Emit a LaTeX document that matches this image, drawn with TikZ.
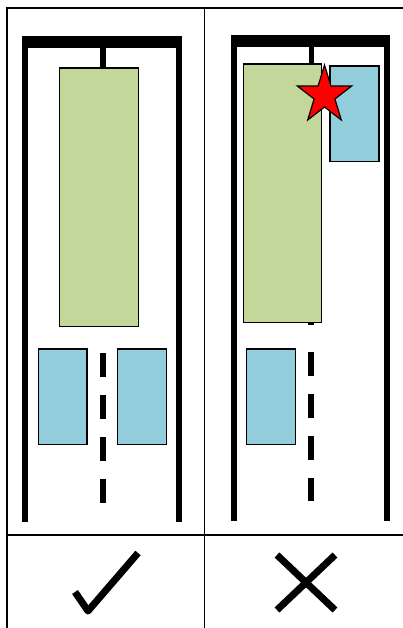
\documentclass[tikz,border=0pt]{standalone}
\usepackage{xcolor}
\definecolor{tramgreen}{HTML}{C4D79B}
\definecolor{carblue}{HTML}{92CDDC}
\definecolor{alarmred}{HTML}{FF0000}

\begin{document}
\begin{tikzpicture}[
  x=1pt,
  y=-1pt,
  grid/.style={black, line width=1.5pt},
  bar/.style={black, line width=12pt},
  rail/.style={black, line width=6pt},
  stem/.style={black, line width=5.5pt},
  lane/.style={black, line width=6pt, dash pattern=on 24pt off 18pt},
  tram/.style={draw=black, line width=1.2pt, fill=tramgreen},
  car/.style={draw=black, line width=1.2pt, fill=carblue},
  alarm/.style={draw=black, line width=1.2pt, fill=alarmred},
  signline/.style={black, line width=7pt}
]
  \useasboundingbox (0,0) rectangle (403,628);

  % ---- the table ----
  \draw[grid] (6,8) -- (403,8);
  \draw[grid] (7,8) -- (7,628);
  \draw[grid] (204.5,8) -- (204.5,628);
  \draw[grid] (7,535) -- (403,535);

  % ---- left panel: the gantry and its rails ----
  \draw[bar]  (22,42) -- (182,42);
  \draw[rail] (25,36) -- (25,522);
  \draw[rail] (179,36) -- (179,522);
  \draw[stem] (103,48) -- (103,68);

  % ---- left panel: tram body, cars and lane marking ----
  \draw[tram] (59.3,68) rectangle (138.3,326.7);
  \draw[car]  (38.3,349) rectangle (87,444.3);
  \draw[car]  (117.7,349) rectangle (166.3,444.3);
  \draw[lane] (102.7,353.3) -- (102.7,503.3);

  % ---- right panel: the gantry and its rails ----
  \draw[bar]  (230.7,40.7) -- (390,40.7);
  \draw[rail] (233.7,34.7) -- (233.7,520.7);
  \draw[rail] (387,34.7) -- (387,520.7);
  \draw[stem] (311.5,46.7) -- (311.5,64);

  % ---- right panel: tram body, cars and lane marking ----
  \draw[black, line width=6pt] (311.3,300.7) -- (311.3,324.7);
  \draw[tram] (243.3,64) rectangle (321.7,322.7);
  \draw[car]  (330,66) rectangle (379,161.3);
  \draw[car]  (246.7,349) rectangle (295.7,444.3);
  \draw[lane] (311.3,351.7) -- (311.3,501.3);

  % ---- the collision star ----
  \draw[alarm, line join=miter] (324.5,65)
    \foreach \i in {1,...,9} {
      -- ({324.5+28.6*sin(36*\i)*ifthenelse(mod(\i,2)==0,1,0.382)},
          {95.4-30.4*cos(36*\i)*ifthenelse(mod(\i,2)==0,1,0.382)})
    } -- cycle;

  % ---- verdicts ----
  \coordinate (tickA) at (75,592);
  \coordinate (tickB) at (88,611);
  \coordinate (tickC) at (138,553);
  \draw[signline, line join=round] (tickA) -- (tickB) -- (tickC);

  \coordinate (crossA) at (277,555);
  \coordinate (crossB) at (335,610);
  \coordinate (crossC) at (335,555);
  \coordinate (crossD) at (277,610);
  \draw[signline] (crossA) -- (crossB);
  \draw[signline] (crossC) -- (crossD);
\end{tikzpicture}
\end{document}
